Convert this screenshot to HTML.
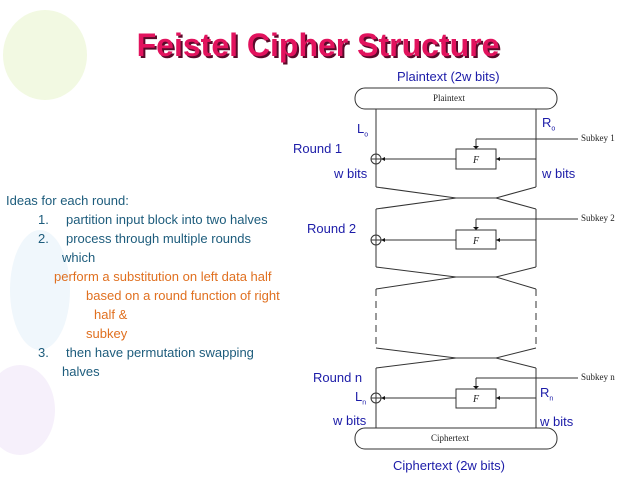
<!DOCTYPE html>
<html><head><meta charset="utf-8"><style>
body{margin:0;width:638px;height:479px;overflow:hidden;background:#fff;font-family:"Liberation Sans",sans-serif;position:relative}
.t{position:absolute;white-space:nowrap;font-size:13px;line-height:15px}
.b{color:#1c1ca8}
.g{color:#1d5c7c}
.o{color:#e07020}
.s{font-family:"Liberation Serif",serif;font-size:9px;color:#222;position:absolute;white-space:nowrap}
</style></head><body>
<svg width="638" height="479" style="position:absolute;left:0;top:0">
<ellipse cx="45" cy="55" rx="42" ry="45" fill="#f2f9e2"/>
<ellipse cx="40" cy="290" rx="30" ry="60" fill="#f0f7fc"/>
<ellipse cx="20" cy="410" rx="35" ry="45" fill="#f6f0fb"/>
<g stroke="#333" stroke-width="1" fill="none">
<rect x="355" y="88" width="202" height="21" rx="10" fill="#fff"/>
<rect x="355" y="428" width="202" height="21" rx="10" fill="#fff"/>
<line x1="376" y1="109" x2="376" y2="187"/><line x1="536" y1="109" x2="536" y2="187"/>
<rect x="456" y="149" width="40" height="20" fill="#fff"/>
<line x1="536" y1="159" x2="496" y2="159"/><line x1="456" y1="159" x2="381" y2="159"/>
<line x1="578" y1="139" x2="476" y2="139"/><line x1="476" y1="139" x2="476" y2="149"/>
<circle cx="376" cy="159" r="5"/><line x1="371" y1="159" x2="381" y2="159"/>
<polyline points="376,187 456,198 496,198 536,187"/>
<polyline points="376,209 456,198 496,198 536,209"/>
<line x1="376" y1="209" x2="376" y2="267"/><line x1="536" y1="209" x2="536" y2="267"/>
<rect x="456" y="230" width="40" height="19" fill="#fff"/>
<line x1="536" y1="240" x2="496" y2="240"/><line x1="456" y1="240" x2="381" y2="240"/>
<line x1="578" y1="219" x2="476" y2="219"/><line x1="476" y1="219" x2="476" y2="230"/>
<circle cx="376" cy="240" r="5"/><line x1="371" y1="240" x2="381" y2="240"/>
<polyline points="376,267 456,277 496,277 536,267"/>
<polyline points="376,289 456,277 496,277 536,289"/>
<line x1="376" y1="289" x2="376" y2="348" stroke-dasharray="7,5"/>
<line x1="536" y1="289" x2="536" y2="348" stroke-dasharray="7,5"/>
<polyline points="376,348 456,358 496,358 536,348"/>
<polyline points="376,368 456,358 496,358 536,368"/>
<line x1="376" y1="368" x2="376" y2="428"/><line x1="536" y1="368" x2="536" y2="428"/>
<rect x="456" y="389" width="40" height="19" fill="#fff"/>
<line x1="536" y1="398" x2="496" y2="398"/><line x1="456" y1="398" x2="381" y2="398"/>
<line x1="578" y1="378" x2="476" y2="378"/><line x1="476" y1="378" x2="476" y2="389"/>
<circle cx="376" cy="398" r="5"/><line x1="371" y1="398" x2="381" y2="398"/>
</g>
<g fill="#111">
<polygon points="473,146 479,146 476,149"/><polygon points="473,227 479,227 476,230"/><polygon points="473,386 479,386 476,389"/>
<polygon points="385,157 385,161 381,159"/><polygon points="385,238 385,242 381,240"/><polygon points="385,396 385,400 381,398"/>
<polygon points="500,157 500,161 496,159"/><polygon points="500,238 500,242 496,240"/><polygon points="500,396 500,400 496,398"/>
</g>
<g font-family="Liberation Serif,serif" font-style="italic" font-size="10" fill="#222" text-anchor="middle">
<text x="476" y="163">F</text><text x="476" y="244">F</text><text x="476" y="402">F</text>
</g>
<text x="318" y="56" text-anchor="middle" font-family="Liberation Sans,sans-serif" font-weight="bold" font-size="32" fill="#5a0a2a" transform="translate(2,2)">Feistel Cipher Structure</text>
<text x="318" y="56" text-anchor="middle" font-family="Liberation Sans,sans-serif" font-weight="bold" font-size="32" fill="#e2135e">Feistel Cipher Structure</text>
</svg>
<div class="s" style="left:433px;top:93px">Plaintext</div>
<div class="s" style="left:431px;top:433px">Ciphertext</div>
<div class="s" style="left:581px;top:133px">Subkey 1</div>
<div class="s" style="left:581px;top:213px">Subkey 2</div>
<div class="s" style="left:581px;top:372px">Subkey n</div>
<div class="t b" style="left:397px;top:69px">Plaintext (2w bits)</div>
<div class="t b" style="left:393px;top:458px">Ciphertext (2w bits)</div>
<div class="t b" style="left:357px;top:121px">L<sub style="font-size:7px">o</sub></div>
<div class="t b" style="left:542px;top:115px">R<sub style="font-size:7px">o</sub></div>
<div class="t b" style="left:293px;top:141px">Round 1</div>
<div class="t b" style="left:334px;top:166px">w bits</div>
<div class="t b" style="left:542px;top:166px">w bits</div>
<div class="t b" style="left:307px;top:221px">Round 2</div>
<div class="t b" style="left:313px;top:370px">Round n</div>
<div class="t b" style="left:355px;top:389px">L<sub style="font-size:7px">n</sub></div>
<div class="t b" style="left:540px;top:385px">R<sub style="font-size:7px">n</sub></div>
<div class="t b" style="left:333px;top:413px">w bits</div>
<div class="t b" style="left:540px;top:414px">w bits</div>
<div class="t g" style="left:6px;top:193px">Ideas for each round:</div>
<div class="t g" style="left:38px;top:212px">1.</div><div class="t g" style="left:66px;top:212px">partition input block into two halves</div>
<div class="t g" style="left:38px;top:231px">2.</div><div class="t g" style="left:66px;top:231px">process through multiple rounds</div>
<div class="t g" style="left:62px;top:250px">which</div>
<div class="t o" style="left:54px;top:269px">perform a substitution on left data half</div>
<div class="t o" style="left:86px;top:288px">based on a round function of right</div>
<div class="t o" style="left:94px;top:307px">half &amp;</div>
<div class="t o" style="left:86px;top:326px">subkey</div>
<div class="t g" style="left:38px;top:345px">3.</div><div class="t g" style="left:66px;top:345px">then have permutation swapping</div>
<div class="t g" style="left:62px;top:364px">halves</div>
</body></html>
